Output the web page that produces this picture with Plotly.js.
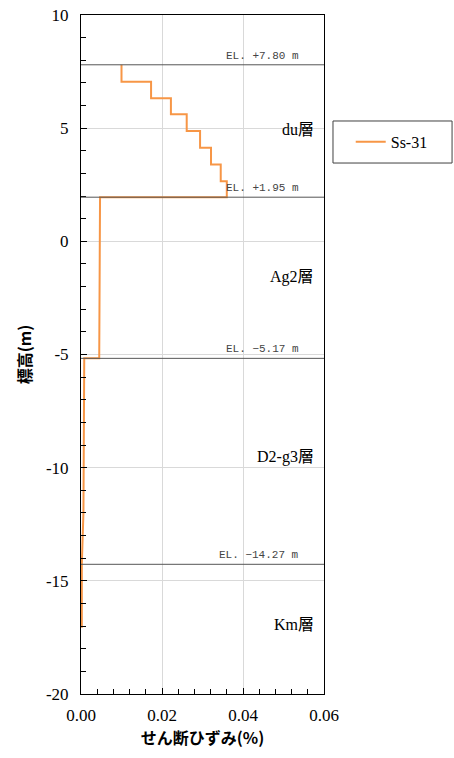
<!DOCTYPE html>
<html>
<head>
<meta charset="utf-8">
<script src="https://cdn.plot.ly/plotly-3.0.1.min.js"></script>
<style>
  html, body { margin: 0; padding: 0; background: #fff; }
  #chart { width: 454px; height: 758px; }
</style>
</head>
<body>
<div id="chart"></div>
<script>
// Shear strain profile (Ss-31) versus elevation
const strainPct = [0.0100, 0.0100, 0.0173, 0.0173, 0.0222, 0.0222, 0.0261, 0.0261,
                   0.0294, 0.0294, 0.0321, 0.0321, 0.0345, 0.0345, 0.0360, 0.0360,
                   0.0047, 0.0045, 0.0008, 0.0006, 0.0002, 0.0002];
const elevation = [7.80, 7.05, 7.05, 6.32, 6.32, 5.61, 5.61, 4.87,
                   4.87, 4.14, 4.14, 3.40, 3.40, 2.66, 2.66, 1.95,
                   1.95, -5.17, -5.17, -12.00, -14.27, -17.07];

// Layer boundaries and labels
const boundaryEl = [7.80, 1.95, -5.17, -14.27];
const boundaryLabels = ['EL. +7.80 m', 'EL. +1.95 m', 'EL. \u22125.17 m', 'EL. \u221214.27 m'];
const layerNames = ['du層', 'Ag2層', 'D2-g3層', 'Km層'];
const layerLabelEl = [4.92, -1.58, -9.53, -16.95];

const seriesName = 'Ss-31';
const xTicks = [0, 0.02, 0.04, 0.06];
const xTickText = ['0.00', '0.02', '0.04', '0.06'];
const yTicks = [-20, -15, -10, -5, 0, 5, 10];
const yTickText = ['-20', '-15', '-10', '-5', '0', '5', '10'];

const serif = 'Liberation Serif';
const serifJP = 'Liberation Serif, Noto Sans CJK JP, serif';
const mono = 'Liberation Mono, DejaVu Sans Mono, monospace';
const sansJP = 'Noto Sans CJK JP, Noto Sans, sans-serif';

const shapes = boundaryEl.map(e => ({
  type: 'line', xref: 'paper', x0: 0, x1: 1, yref: 'y', y0: e, y1: e,
  line: { color: '#555555', width: 1 }
}));
// legend frame
shapes.push({
  type: 'rect', xref: 'paper', yref: 'paper',
  x0: 1.037, x1: 1.527, y0: 0.782, y1: 0.8439,
  line: { color: '#404040', width: 1 }, fillcolor: 'rgba(0,0,0,0)'
});

const annotations = [];
boundaryEl.forEach((e, i) => {
  annotations.push({
    x: 0.0543, y: e, xref: 'x', yref: 'y', text: boundaryLabels[i],
    showarrow: false, xanchor: 'right', yanchor: 'bottom', yshift: 1,
    font: { family: mono, size: 11, color: '#444444' }
  });
});
layerNames.forEach((n, i) => {
  annotations.push({
    x: 0.0580, y: layerLabelEl[i], xref: 'x', yref: 'y', text: n,
    showarrow: false, xanchor: 'right', yanchor: 'middle',
    font: { family: serifJP, size: 16, color: '#000000' }
  });
});

const trace = {
  x: strainPct, y: elevation, type: 'scatter', mode: 'lines', name: seriesName,
  line: { color: '#F79646', width: 2 }
};

const tickFont = { family: serif, size: 17, color: '#000000', weight: 'normal' };

const layout = {
  width: 454, height: 758,
  margin: { l: 81, r: 130, t: 15, b: 64 },
  paper_bgcolor: '#ffffff', plot_bgcolor: '#ffffff',
  font: { family: serif, size: 17, color: '#000' },
  showlegend: true,
  legend: {
    x: 1.11, y: 0.813, xanchor: 'left', yanchor: 'middle',
    borderwidth: 0, bgcolor: 'rgba(0,0,0,0)',
    font: { family: serif, size: 16, color: '#000' }
  },
  xaxis: {
    range: [0, 0.06], tickmode: 'array', tickvals: xTicks, ticktext: xTickText,
    showgrid: true, gridcolor: '#d9d9d9', gridwidth: 1, zeroline: false,
    showline: true, linecolor: '#000', linewidth: 1, mirror: true,
    ticks: 'inside', ticklen: 6, tickcolor: '#000', ticklabelstandoff: 6,
    minor: { dtick: 0.004, ticks: 'inside', ticklen: 5, tickcolor: '#000', showgrid: false },
    tickfont: tickFont,
    title: { text: 'せん断ひずみ(%)', font: { family: sansJP, size: 16, color: '#000', weight: 'bold' }, standoff: 8 }
  },
  yaxis: {
    range: [-20, 10], tickmode: 'array', tickvals: yTicks, ticktext: yTickText,
    showgrid: true, gridcolor: '#d9d9d9', gridwidth: 1, zeroline: false,
    showline: true, linecolor: '#000', linewidth: 1, mirror: true,
    ticks: 'inside', ticklen: 6, tickcolor: '#000', ticklabelstandoff: 8,
    minor: { dtick: 1, ticks: 'inside', ticklen: 5, tickcolor: '#000', showgrid: false },
    tickfont: tickFont,
    title: { text: '標高(m)', font: { family: sansJP, size: 16, color: '#000', weight: 'bold' }, standoff: 10 }
  },
  shapes: shapes,
  annotations: annotations
};

Plotly.newPlot('chart', [trace], layout, { displayModeBar: false, staticPlot: true });
</script>
</body>
</html>
